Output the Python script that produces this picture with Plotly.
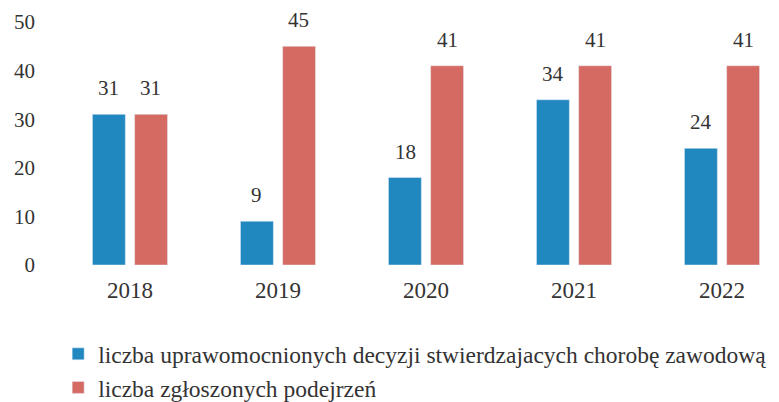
import plotly.graph_objects as go

years = ["2018", "2019", "2020", "2021", "2022"]
decyzje = [31, 9, 18, 34, 24]
podejrzenia = [31, 45, 41, 41, 41]
name_decyzje = "liczba uprawomocnionych decyzji stwierdzajacych chorobę zawodową"
name_podejrzenia = "liczba zgłoszonych podejrzeń"
y_ticks = [0, 10, 20, 30, 40, 50]

FONT = "Liberation Serif"
BLUE = "#2087bf"
RED = "#d46a62"
TXT = "#333333"

fig = go.Figure()
fig.add_trace(go.Bar(x=years, y=decyzje, name=name_decyzje, marker_color=BLUE))
fig.add_trace(go.Bar(x=years, y=podejrzenia, name=name_podejrzenia, marker_color=RED))

# value labels above bars (positioned by data coordinates: category index + value)
for series, dx in ((decyzje, -21), (podejrzenia, 21)):
    for i, v in enumerate(series):
        fig.add_annotation(x=i, y=v, text=str(v), showarrow=False, xshift=dx,
                           yanchor="bottom", yshift=12,
                           font=dict(family=FONT, size=21, color=TXT))

fig.update_layout(
    width=771, height=394,
    margin=dict(l=28, r=4, t=14, b=137, autoexpand=False),
    paper_bgcolor="white", plot_bgcolor="white",
    font=dict(family=FONT, color=TXT, size=21),
    barmode="group", bargap=0.43, bargroupgap=0.22,
    showlegend=True,
    legend=dict(orientation="v", x=0.03, xanchor="left", y=-0.276, yanchor="top",
                font=dict(family=FONT, size=23.5, color=TXT),
                itemwidth=30, tracegroupgap=0, bgcolor="rgba(0,0,0,0)"),
    xaxis=dict(type="category", range=[-0.635, 4.358], showline=False, showgrid=False,
               automargin=False, ticks="", ticklabelstandoff=9,
               tickfont=dict(family=FONT, size=23, color=TXT)),
    yaxis=dict(range=[0, 50], tickvals=y_ticks, showgrid=False, zeroline=False,
               automargin=False, showline=False, ticks="",
               tickfont=dict(family=FONT, size=21, color=TXT)),
)
fig.write_html("out.html")
